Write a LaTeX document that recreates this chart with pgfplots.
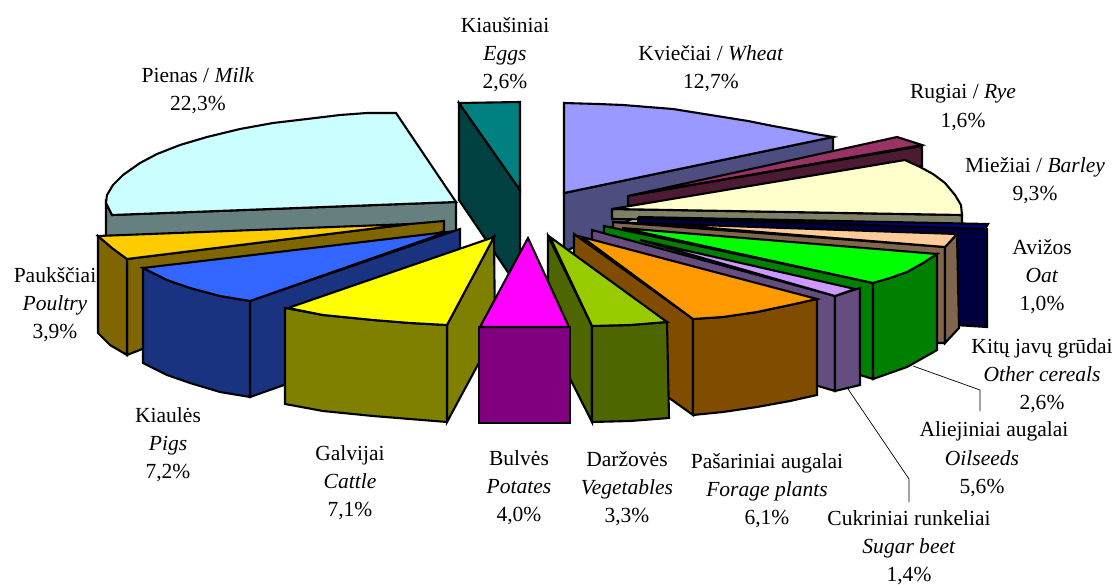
\documentclass[border=0pt]{standalone}
\usepackage{pgfplots}
\pgfplotsset{compat=1.18}
\usepackage{fontspec}
\setmainfont{Liberation Serif}
\tikzset{lab/.style={align=center,inner sep=0pt,font=\fontsize{21.6}{28.3}\selectfont}}
\definecolor{wheatT}{HTML}{9999FF}\definecolor{wheatS}{HTML}{4D4D80}
\definecolor{ryeT}{HTML}{993366}\definecolor{ryeS}{HTML}{4D1A33}
\definecolor{barT}{HTML}{FFFFCC}\definecolor{barS}{HTML}{808066}
\definecolor{oatT}{HTML}{000080}\definecolor{oatS}{HTML}{000040}
\definecolor{othT}{HTML}{FFCC99}\definecolor{othS}{HTML}{80664D}
\definecolor{oilT}{HTML}{00FF00}\definecolor{oilS}{HTML}{008000}
\definecolor{sugT}{HTML}{CC99FF}\definecolor{sugS}{HTML}{664D80}
\definecolor{forT}{HTML}{FF9900}\definecolor{forS}{HTML}{804D00}
\definecolor{vegT}{HTML}{99CC00}\definecolor{vegS}{HTML}{4D6600}
\definecolor{potT}{HTML}{FF00FF}\definecolor{potS}{HTML}{800080}
\definecolor{catT}{HTML}{FFFF00}\definecolor{catS}{HTML}{808000}
\definecolor{pigT}{HTML}{3366FF}\definecolor{pigS}{HTML}{1A3380}
\definecolor{pouT}{HTML}{FFCC00}\definecolor{pouS}{HTML}{806600}
\definecolor{milT}{HTML}{CCFFFF}\definecolor{milS}{HTML}{668080}
\definecolor{eggT}{HTML}{008080}\definecolor{eggS}{HTML}{004040}
\begin{document}
\begin{tikzpicture}
\useasboundingbox (0,0) rectangle (1114bp,585bp);
\begin{axis}[at={(0,0)},anchor=south west,scale only axis,width=1114bp,height=585bp,
  xmin=0,xmax=1114,ymin=0,ymax=585,y dir=reverse,hide axis,clip=false,
  every axis plot/.append style={draw=black,line width=2.1bp,line join=miter,mark=none}]
% Wheat
\addplot[fill=wheatS] coordinates {(564,193)(833,137)(833,152)(640,215)(564,252)} -- cycle;
\addplot[fill=wheatT] coordinates {(564,103)(598,104)(623,105)(648,107)(673,109)(698,113)(723,117)(748,121)(773,126)(795,130)(815,134)(833,137)(564,193)} -- cycle;
% Rye
\addplot[fill=ryeT] coordinates {(628,196)(897,137)(922,145)} -- cycle;
\addplot[fill=ryeS] coordinates {(628,196)(922,146)(922,166)(628,206)} -- cycle;
% Barley
\addplot[fill=barS] coordinates {(612,209)(962,215)(962,224)(612,219)} -- cycle;
\addplot[fill=barT] coordinates {(612,209)(905,160)(920,167)(933,174)(945,183)(955,195)(961,205)(962,215)} -- cycle;
% Oat
\addplot[fill=oatS] coordinates {(638,218)(987,229)(987,327)(955,325)(638,240)} -- cycle;
\addplot[fill=oatT] coordinates {(638,217)(988,224)(985,229)} -- cycle;
% Other cereals
\addplot[fill=othS] coordinates {(613,222)(945,247)(945,343)(934,343)(613,232)} -- cycle;
\addplot[fill=othS] coordinates {(945,247)(957,234)(959,328)(945,343)} -- cycle;
\addplot[fill=othT] coordinates {(613,222)(957,234)(945,247)(673,225)} -- cycle;
% Oilseeds
\addplot[fill=oilS] coordinates {(604,226)(873,283)(873,379)(860,375)(604,245)} -- cycle;
\addplot[fill=oilS] coordinates {(873,283)(890,278)(907,272)(923,263)(937,254)(937,350)(923,358)(907,367)(890,373)(873,379)} -- cycle;
\addplot[fill=oilT] coordinates {(622,228)(937,254)(923,263)(907,272)(890,278)(873,283)} -- cycle;
% Sugar beet
\addplot[fill=sugS] coordinates {(592,230)(835,296)(835,391)(818,386)(592,300)} -- cycle;
\addplot[fill=sugS] coordinates {(835,296)(860,288)(860,385)(835,391)} -- cycle;
\addplot[fill=sugT] coordinates {(640,240)(855,289)(835,296)} -- cycle;
% Forage
\addplot[fill=forS] coordinates {(574,234)(693,319)(693,415)(574,330)} -- cycle;
\addplot[fill=forS] coordinates {(693,319)(723,317)(757,312)(790,305)(817,299)(817,395)(790,401)(757,407)(723,412)(693,415)} -- cycle;
\addplot[fill=forT] coordinates {(582,237)(817,299)(790,305)(757,312)(723,317)(693,319)} -- cycle;
% Eggs
\addplot[fill=eggS] coordinates {(459,103)(520,190)(520,290)(459,200)} -- cycle;
\addplot[fill=eggT] coordinates {(459,103)(520,102)(520,190)} -- cycle;
% Milk
\addplot[fill=milS] coordinates {(106,203)(112,215)(456,202)(456,240)(106,240)} -- cycle;
\addplot[fill=milT] coordinates {(396,113)(367,113)(340,115)(307,119)(273,123)(240,129)(207,137)(180,145)(157,154)(140,163)(123,175)(113,185)(107,195)(106,203)(112,215)(456,202)} -- cycle;
% Poultry
\addplot[fill=pouS] coordinates {(127,259)(410,224)(444,221)(444,231)(127,355)} -- cycle;
\addplot[fill=pouS] coordinates {(98,236)(112,248)(127,259)(127,355)(110,345)(98,333)} -- cycle;
\addplot[fill=pouT] coordinates {(98,236)(410,224)(127,259)(112,248)} -- cycle;
% Pigs
\addplot[fill=pigS] coordinates {(250,301)(460,229)(460,323)(250,397)} -- cycle;
\addplot[fill=pigS] coordinates {(143,268)(167,280)(190,288)(220,296)(250,301)(250,397)(220,392)(190,383)(167,375)(143,363)} -- cycle;
\addplot[fill=pigT] coordinates {(143,268)(447,232)(250,301)(220,296)(190,288)(167,280)} -- cycle;
% Cattle
\addplot[fill=catS] coordinates {(447,325)(494,237)(495,333)(447,422)} -- cycle;
\addplot[fill=catS] coordinates {(285,308)(323,315)(373,320)(410,323)(447,325)(447,422)(410,419)(373,416)(323,411)(285,404)} -- cycle;
\addplot[fill=catT] coordinates {(288,308)(494,237)(447,325)(410,323)(373,320)(323,315)} -- cycle;
% Vegetables
\addplot[fill=vegS] coordinates {(548,236)(592,326)(592,422)(548,335)} -- cycle;
\addplot[fill=vegS] coordinates {(592,326)(630,325)(667,322)(669,418)(630,421)(592,422)} -- cycle;
\addplot[fill=vegT] coordinates {(550,237)(667,322)(630,325)(592,326)} -- cycle;
% Potatoes
\addplot[fill=potS] coordinates {(479,327)(570,327)(570,423)(479,423)} -- cycle;
\addplot[fill=potT] coordinates {(528,238)(569,327)(480,327)} -- cycle;
% Leaders
\addplot[line width=0.7bp] coordinates {(913,366)(980,390)(980,411)};
\addplot[line width=0.7bp] coordinates {(848,389)(909,479)(909,502)};
% Labels
\node[lab] at (axis cs:505,54.5) {Kiaušiniai\\\textit{Eggs}\\2,6\%};
\node[lab] at (axis cs:711,68.5) {Kviečiai / \textit{Wheat}\\12,7\%};
\node[lab] at (axis cs:198,90.5) {Pienas / \textit{Milk}\\22,3\%};
\node[lab] at (axis cs:963,107.5) {Rugiai / \textit{Rye}\\1,6\%};
\node[lab] at (axis cs:1035,180.5) {Miežiai / \textit{Barley}\\9,3\%};
\node[lab] at (axis cs:1042,276.5) {Avižos\\\textit{Oat}\\1,0\%};
\node[lab] at (axis cs:55,304.5) {Paukščiai\\\textit{Poultry}\\3,9\%};
\node[lab] at (axis cs:1042,375.5) {Kitų javų grūdai\\\textit{Other cereals}\\2,6\%};
\node[lab] at (axis cs:994,431) {Aliejiniai augalai};
\node[lab] at (axis cs:982,473.5) {\textit{Oilseeds}\\5,6\%};
\node[lab] at (axis cs:909,547.5) {Cukriniai runkeliai\\\textit{Sugar beet}\\1,4\%};
\node[lab] at (axis cs:767,490.5) {Pašariniai augalai\\\textit{Forage plants}\\6,1\%};
\node[lab] at (axis cs:627,488.5) {Daržovės\\\textit{Vegetables}\\3,3\%};
\node[lab] at (axis cs:519,487.5) {Bulvės\\\textit{Potates}\\4,0\%};
\node[lab] at (axis cs:350,482.5) {Galvijai\\\textit{Cattle}\\7,1\%};
\node[lab] at (axis cs:168,444.5) {Kiaulės\\\textit{Pigs}\\7,2\%};
\end{axis}
\end{tikzpicture}
\end{document}
